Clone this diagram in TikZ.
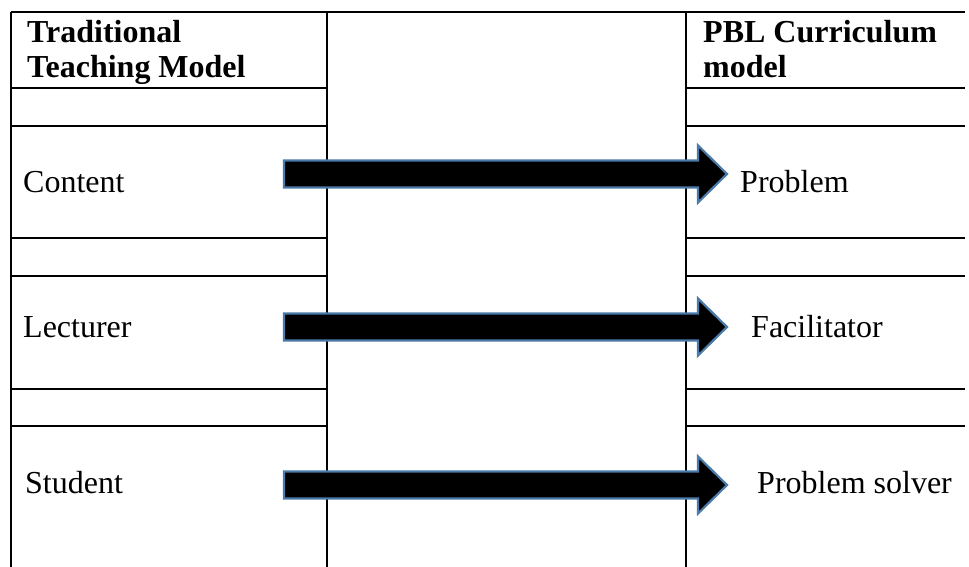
\documentclass[tikz,border=0pt]{standalone}
\usepackage{fontspec}
\setmainfont{Liberation Serif}
\begin{document}
\begin{tikzpicture}[x=1pt,y=-1pt,
  rule/.style={line width=1.6pt,black},
  celltext/.style={anchor=base west,inner sep=0pt,font=\fontsize{32}{36}\selectfont},
  headtext/.style={anchor=base west,inner sep=0pt,font=\fontsize{32}{36}\selectfont\bfseries,align=left},
  blockarrow/.style={draw=arrowblue,fill=black,line width=2.2pt,line join=miter}
]
\definecolor{arrowblue}{HTML}{4A7AAA}
\useasboundingbox (0,0) rectangle (969,567);
% table rules
\draw[rule] (11,12) -- (965,12);
\draw[rule] (11,12) -- (11,567);
\draw[rule] (327,12) -- (327,567);
\draw[rule] (686,12) -- (686,567);
\foreach \yy in {88,126,238,276,389,426}{
  \draw[rule] (11,\yy) -- (327,\yy);
  \draw[rule] (686,\yy) -- (965,\yy);
}
% headers
\node[headtext] (hl1) at (27,43) {Traditional};
\node[headtext] (hl2) at (27,78) {Teaching Model};
\node[headtext] (hr1) at (703,43) {PBL Curriculum};
\node[headtext] (hr2) at (703,78) {model};
% arrows
\foreach \cy/\nm in {174/a1,327/a2,485/a3}{
  \coordinate (\nm) at (284,\cy);
  \draw[blockarrow] (\nm) ++(0,-13.5) -- ++(414,0) -- ++(0,-15) -- ++(29,28.5)
     -- ++(-29,28.5) -- ++(0,-15) -- ++(-414,0) -- cycle;
}
% cells
\node[celltext] (c1) at (23,192) {Content};
\node[celltext] (c2) at (23,337) {Lecturer};
\node[celltext] (c3) at (25,493) {Student};
\node[celltext] (r1) at (740,192) {Problem};
\node[celltext] (r2) at (751,337) {Facilitator};
\node[celltext] (r3) at (757,493) {Problem solver};
\end{tikzpicture}
\end{document}
